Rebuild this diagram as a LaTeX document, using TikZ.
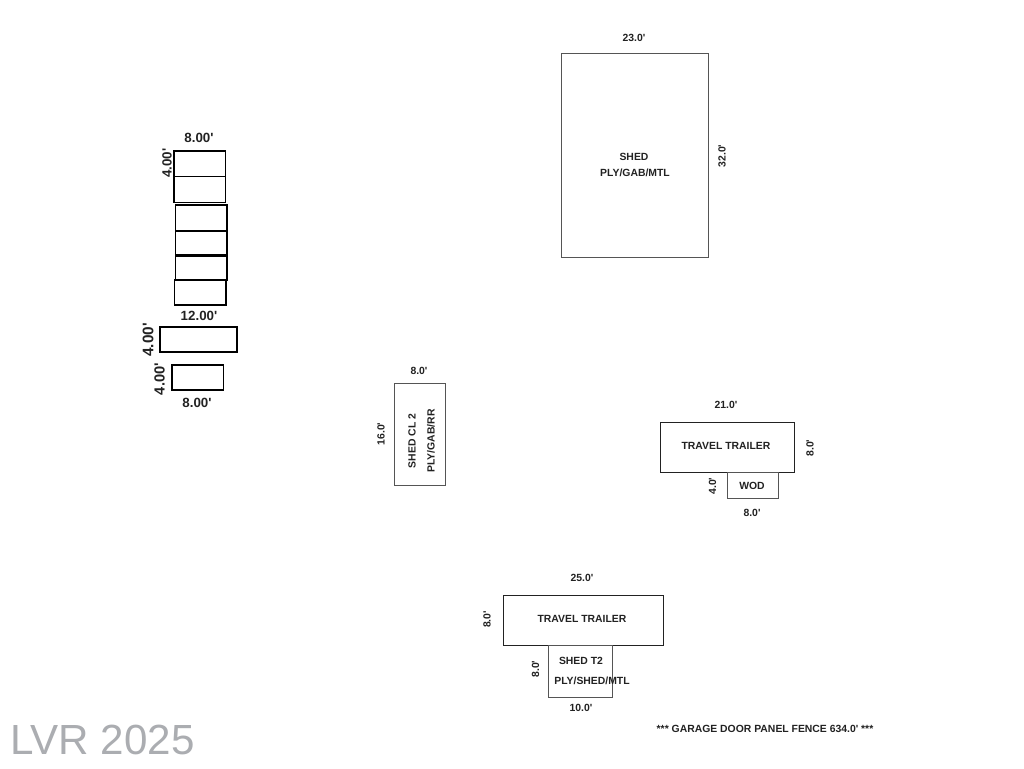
\documentclass[tikz,border=0pt]{standalone}
\usepackage{fontspec}
\setmainfont{Liberation Sans}[Ligatures=TeXOff]
\definecolor{thinline}{HTML}{555555}
\definecolor{heavyline}{HTML}{222222}
\definecolor{labelink}{HTML}{222222}
\definecolor{markgray}{HTML}{ABADB1}
\tikzset{
  thinbox/.style={draw=thinline,line width=0.75pt},
  midbox/.style={draw=heavyline,line width=1.1pt},
  heavybox/.style={draw=black,line width=1.1pt},
  small/.style={font=\fontsize{7.8}{9}\bfseries\selectfont,text=labelink,inner sep=0pt},
  big/.style={font=\fontsize{10}{12}\bfseries\selectfont,text=labelink,inner sep=0pt},
  rotl/.style={rotate=90}
}
\begin{document}
\begin{tikzpicture}[x=0.75pt,y=-0.75pt]
\useasboundingbox (0,0) rectangle (1024,768);
\fill[white] (0,0) rectangle (1024,768);
% shed
\draw[thinbox] (561,53) rectangle (708.5,257.5);
\node[small] (d1) at (634,37.5) {23.0'};
\node[small,rotl] (d2) at (722,156) {32.0'};
\node[small] (t1) at (634,157) {SHED};
\node[small] (t2) at (635,173) {PLY/GAB/MTL};
% shed cl 2
\draw[thinbox] (394.5,383.5) rectangle (445.5,485.5);
\node[small] (d3) at (419,370.5) {8.0'};
\node[small,rotl] (d4) at (381,434) {16.0'};
\node[small,rotl] (t3) at (412,441) {SHED CL 2};
\node[small,rotl] (t4) at (431,441) {PLY/GAB/RR};
% travel trailer right
\draw[midbox] (660.5,422.5) rectangle (794.5,472.5);
\draw[thinbox] (727.5,472.5) rectangle (778.5,498.5);
\node[small] (d5) at (726,405) {21.0'};
\node[small,rotl] (d6) at (810,448) {8.0'};
\node[small,rotl] (d7) at (712.5,486) {4.0'};
\node[small] (d8) at (752,512.5) {8.0'};
\node[small] (t5) at (726,445.5) {TRAVEL TRAILER};
\node[small] (t6) at (752,485.5) {WOD};
% travel trailer bottom
\draw[midbox] (503.5,595.5) rectangle (663.5,645.5);
\draw[thinbox] (548,645.5) rectangle (612,697);
\node[small] (d9) at (582,577.5) {25.0'};
\node[small,rotl] (d10) at (487,619.5) {8.0'};
\node[small,rotl] (d11) at (535.5,669) {8.0'};
\node[small] (d12) at (581,707.5) {10.0'};
\node[small] (t7) at (582,619) {TRAVEL TRAILER};
\node[small] (t8) at (581,661) {SHED T2};
\node[small] (t9) at (592,681) {PLY/SHED/MTL};
\node[small] (t10) at (765,728.5) {*** GARAGE DOOR PANEL FENCE 634.0' ***};
% left stack
\draw[heavybox] (174,151) rectangle (225.5,202.5);
\draw[heavybox] (174,176.5) -- (225.5,176.5);
\draw[heavybox] (175.5,205) rectangle (227,280);
\draw[heavybox] (175.5,231) -- (227,231);
\draw[heavybox,line width=1.9pt] (175.5,255.5) -- (227,255.5);
\draw[heavybox] (174.5,280) rectangle (226,305);
\draw[heavybox,line width=1.7pt] (175,280) -- (227,280);
\draw[heavybox] (160,327) rectangle (237,352);
\draw[heavybox] (172,365) rectangle (223.5,390);
\node[big] (d13) at (199,137.5) {8.00'};
\node[big,rotl] (d14) at (167,163) {4.00'};
\node[big] (d15) at (199,315.5) {12.00'};
\node[big,font=\fontsize{11.5}{13}\bfseries\selectfont,rotl] (d16) at (148,340) {4.00'};
\node[big,font=\fontsize{11}{13}\bfseries\selectfont,rotl] (d17) at (159.5,379) {4.00'};
\node[big] (d18) at (197,402.5) {8.00'};
% watermark
\node[font=\fontsize{31.6}{38}\selectfont,text=markgray,inner sep=0pt,anchor=base west] (wm) at (10,754) {LVR 2025};
\end{tikzpicture}
\end{document}
